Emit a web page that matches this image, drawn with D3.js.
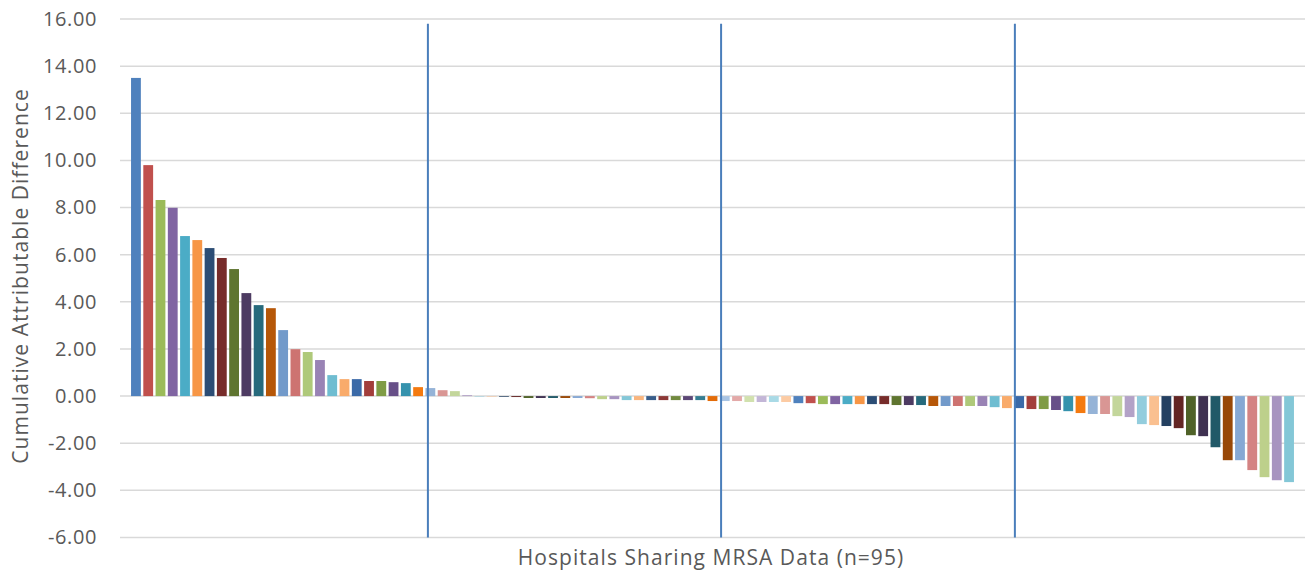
<!DOCTYPE html>
<html>
<head>
<meta charset="utf-8">
<script src="https://cdn.jsdelivr.net/npm/d3@7"></script>
<style>
  html, body { margin: 0; padding: 0; background: #fff; }
  svg { display: block; }
  text { font-family: "Open Sans", "Noto Sans", sans-serif; fill: #595959; }
</style>
</head>
<body>
<svg id="chart" width="1307" height="577"></svg>
<script>
// ---- data ----
const hospitals = d3.range(1, 96).map(i => "H" + i);
const values = [
  13.50, 9.80, 8.32, 7.99, 6.79, 6.62, 6.28, 5.86, 5.39, 4.37,
  3.86, 3.73, 2.80, 1.99, 1.87, 1.53, 0.89, 0.72, 0.72, 0.64,
  0.64, 0.59, 0.55, 0.38, 0.34, 0.25, 0.21, 0.04, -0.02, -0.02,
  -0.03, -0.04, -0.08, -0.08, -0.08, -0.08, -0.08, -0.09, -0.13, -0.13,
  -0.17, -0.17, -0.17, -0.17, -0.17, -0.17, -0.17, -0.21, -0.21, -0.21,
  -0.25, -0.25, -0.25, -0.25, -0.30, -0.30, -0.34, -0.34, -0.34, -0.34,
  -0.34, -0.34, -0.38, -0.38, -0.38, -0.42, -0.42, -0.42, -0.42, -0.42,
  -0.47, -0.51, -0.51, -0.55, -0.55, -0.59, -0.64, -0.72, -0.76, -0.76,
  -0.85, -0.89, -1.19, -1.23, -1.27, -1.36, -1.66, -1.70, -2.17, -2.72,
  -2.72, -3.14, -3.44, -3.57, -3.65
];
const yTicks = [-6, -4, -2, 0, 2, 4, 6, 8, 10, 12, 14, 16];
// quartile divider positions, in category units
const dividerPositions = [24.2, 48.1, 72.05];
const yTitle = "Cumulative Attributable Difference";
const xTitle = "Hospitals Sharing MRSA Data (n=95)";

// ---- colour cycle (Excel-style) ----
const base      = ["#4F81BD","#C0504D","#9BBB59","#8064A2","#4BACC6","#F79646"];
const dark      = ["#2C4D75","#772C2A","#5F7530","#4D3B62","#276A7C","#B65708"];
const light     = ["#729ACA","#CD7371","#AFC97A","#9983B5","#6FBDD1","#F9AB6B"];
const medDarkA  = ["#3B6AA8","#A23E3B","#7F9C45","#674F88","#3592AD","#F47A10"];
const lighter   = ["#95B3D7","#D99694","#C3D69B","#B3A2C7","#93CDDD","#FAC090"];
const darker    = ["#244061","#632523","#4F6228","#3F3151","#215968","#984807"];
const light2    = ["#86A8D4","#D48383","#BDD08B","#A794C0","#84C7D7","#F9B57E"];
const medDarkB  = ["#385D8A","#8C3836","#71893F","#5C4776","#357D91","#E36C09"];
const veryLight = ["#A9C4E3","#E3A9A8","#D1E1AE","#C3B6D7","#A9DAE6","#FCCBA3"];
const groups = [base, dark, light, medDarkA, lighter, darker, light2, medDarkB,
                veryLight, base, dark, light, medDarkA, lighter, darker, light2];
const colorOf = i => groups[Math.floor(i / 6)][i % 6];

// ---- layout ----
const svg = d3.select("#chart");
const plot = { left: 120, right: 1305, top: 19, bottom: 537.5 };

const x = d3.scaleBand()
  .domain(hospitals)
  .range([plot.left, plot.right])
  .paddingInner(0.2)
  .paddingOuter(0.9);

const y = d3.scaleLinear().domain([-6, 16]).range([plot.bottom, plot.top]);

// gridlines
svg.append("g")
  .selectAll("line")
  .data(yTicks)
  .join("line")
  .attr("x1", plot.left).attr("x2", plot.right)
  .attr("y1", d => y(d)).attr("y2", d => y(d))
  .attr("stroke", "#D9D9D9")
  .attr("stroke-width", 1.5);

// y axis labels (hyphen-minus like the original)
const fmt = d3.formatLocale({ decimal: ".", thousands: ",", grouping: [3], currency: ["", ""], minus: "-" }).format(".2f");
const yAxis = d3.axisLeft(y).tickValues(yTicks).tickFormat(fmt).tickSize(0).tickPadding(0);
const gy = svg.append("g").attr("transform", `translate(97,0)`).call(yAxis);
gy.select(".domain").remove();
gy.selectAll("text")
  .attr("font-size", 20)
  .attr("letter-spacing", 0.6)
  .attr("fill", "#595959")
  .style("font-family", '"Open Sans", sans-serif');

// bars
svg.append("g")
  .selectAll("rect")
  .data(values)
  .join("rect")
  .attr("x", (d, i) => x(hospitals[i]))
  .attr("width", x.bandwidth())
  .attr("y", d => y(Math.max(0, d)))
  .attr("height", d => Math.abs(y(d) - y(0)))
  .attr("fill", (d, i) => colorOf(i));

// dividers
const posX = p => x.range()[0] + x.step() * (x.paddingOuter() + p);
svg.append("g")
  .selectAll("line")
  .data(dividerPositions)
  .join("line")
  .attr("x1", posX).attr("x2", posX)
  .attr("y1", y(15.8)).attr("y2", y(-6))
  .attr("stroke", "#4A7EBB")
  .attr("stroke-width", 2);

// titles
svg.append("text")
  .attr("x", 711)
  .attr("y", 565)
  .attr("text-anchor", "middle")
  .attr("font-size", 21)
  .attr("letter-spacing", 1.05)
  .text(xTitle);

svg.append("text")
  .attr("transform", `translate(28, 276) rotate(-90)`)
  .attr("text-anchor", "middle")
  .attr("font-size", 21)
  .attr("letter-spacing", 1.05)
  .text(yTitle);
</script>
</body>
</html>
